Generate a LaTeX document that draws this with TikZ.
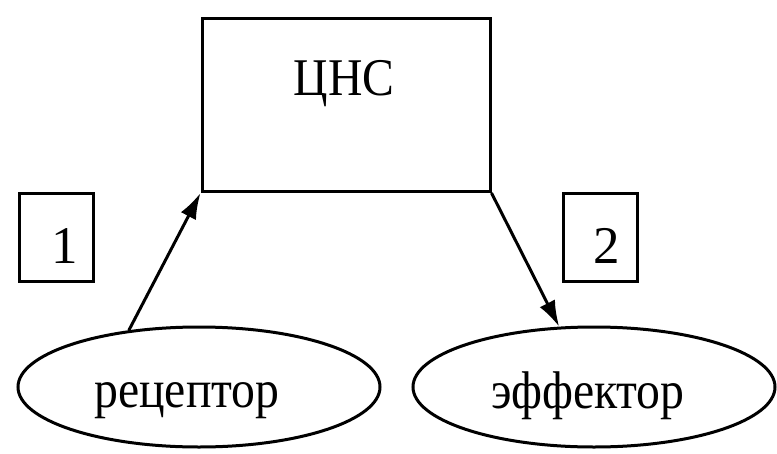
\documentclass[tikz,border=0pt]{standalone}
\usepackage{fontspec}
\setmainfont{Liberation Serif}
\usetikzlibrary{shapes.geometric,arrows.meta}
\tikzset{every path/.style={black,line width=3pt}, every node/.style={inner sep=0pt, font=\fontsize{53}{60}\selectfont}}
\tikzset{cnsbox/.style={draw,rectangle,minimum width=288pt,minimum height=173pt},
  numbox/.style={draw,rectangle,minimum width=74pt,minimum height=88pt},
  organ/.style={draw,ellipse,minimum width=362pt,minimum height=120pt},
  word/.style={anchor=base},
  nerve/.style={-{Latex[length=26pt,width=17pt]}}}
\newcommand{\narrow}[1]{\scalebox{0.9}[1]{#1}}

\begin{document}
\begin{tikzpicture}[x=1pt,y=-1pt]
  \useasboundingbox (0,0) rectangle (777,453);
  \node[cnsbox] (cns) at (346,105) {};
  \node[word] (cnstext) at (344,95) {\narrow{ЦНС}};

  \node[numbox] (one) at (56,237) {};
  \node[word] (onetext) at (65,263) {1};
  \node[numbox] (two) at (600,237) {};
  \node[word] (twotext) at (607,263) {2};

  \node[organ] (rec) at (199,387) {};
  \node[word] (rectext) at (187,407) {\narrow{рецептор}};
  \node[organ] (eff) at (594,387) {};
  \node[word] (efftext) at (588,408) {\narrow{эффектор}};

  \draw[nerve] (rec.141) -- (cns.south west);
  \draw[nerve] (cns.south east) -- (eff.120);
\end{tikzpicture}
\end{document}
